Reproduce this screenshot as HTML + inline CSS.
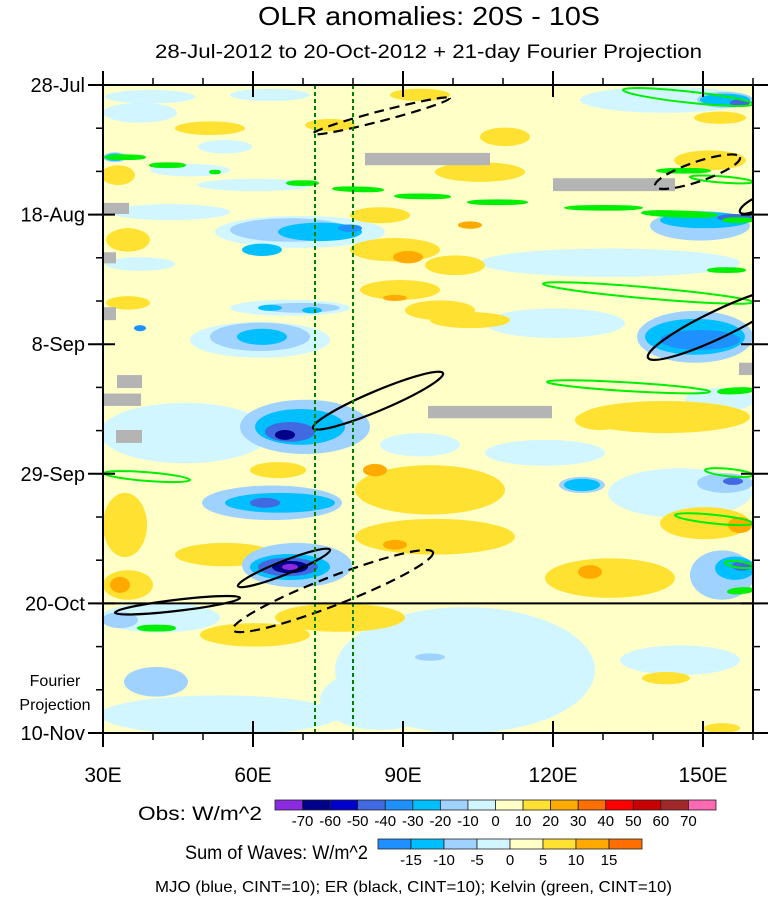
<!DOCTYPE html>
<html><head><meta charset="utf-8"><style>
html,body{margin:0;padding:0;background:#fff;}
body{width:771px;height:899px;overflow:hidden;font-family:"Liberation Sans",sans-serif;}
svg text{font-family:"Liberation Sans",sans-serif;fill:#000;}
</style></head><body>
<svg id="chart" width="771" height="899" viewBox="0 0 771 899" xmlns="http://www.w3.org/2000/svg">
<defs><clipPath id="plotclip"><rect x="103" y="85" width="650" height="648"/></clipPath></defs>
<text x="258" y="25" font-size="26" textLength="342" lengthAdjust="spacingAndGlyphs">OLR anomalies: 20S - 10S</text>
<text x="155" y="58" font-size="19" textLength="547" lengthAdjust="spacingAndGlyphs">28-Jul-2012 to 20-Oct-2012 + 21-day Fourier Projection</text>
<g id="field" clip-path="url(#plotclip)">
<rect x="103" y="85" width="650" height="648" fill="#FFFFC8"/>
</g>
<g id="axes"></g>
<g id="cbars"></g>
<text x="55" y="686" font-size="16" text-anchor="middle">Fourier</text>
<text x="55" y="710" font-size="16" text-anchor="middle">Projection</text>
<text x="138" y="820" font-size="19" textLength="124" lengthAdjust="spacingAndGlyphs">Obs: W/m^2</text>
<text x="185" y="859" font-size="19" textLength="183" lengthAdjust="spacingAndGlyphs">Sum of Waves: W/m^2</text>
<text x="155" y="892" font-size="16" textLength="517" lengthAdjust="spacingAndGlyphs">MJO (blue, CINT=10); ER (black, CINT=10); Kelvin (green, CINT=10)</text>
</svg>
<script>
// ---- data ----
const xTickLons = [30, 60, 90, 120, 150];
const xTickLabels = ["30E", "60E", "90E", "120E", "150E"];
const yTickDays = [0, 21, 42, 63, 84, 105];
const yTickLabels = ["28-Jul", "18-Aug", "8-Sep", "29-Sep", "20-Oct", "10-Nov"];
const obsLevels = [-70, -60, -50, -40, -30, -20, -10, 0, 10, 20, 30, 40, 50, 60, 70];
const obsColors = ["#8A2BE2","#00008B","#0000CD","#4169E1","#1E90FF","#00BFFF","#A0D2FF","#D1F6FF","#FFFFC8","#FFE132","#FFAA00","#FF6E00","#FF0000","#C80000","#A02828","#FF69B4"];
const waveLevels = [-15, -10, -5, 0, 5, 10, 15];
const waveColors = ["#1E90FF","#00BFFF","#A0D2FF","#D1F6FF","#FFFFC8","#FFE132","#FFAA00","#FF6E00"];
const projectionStartDay = 84;
const equatorLons = [72.4, 80];
// anomaly blobs: [lon, day, halfLon, halfDays, value W/m2]
const anomalyBlobs = [
[39.4,1.9,9,1.1,-5],[63.4,1.6,8,1,-5],[37.4,4.5,7.4,1.6,-5],[54.4,10,5.4,1.1,-5],[47.4,13.8,8,1,-5],
[60.4,16.2,11.6,1,-5],[43.4,20.6,12,1.3,-5],[69.4,23.8,17,2.6,-5],[37.4,29,7,1.1,-5],[67.4,36.1,12,1.3,-5],
[61.4,41.3,14,2.9,-5],[142.4,2.4,17,2.1,-5],[131.4,28.8,26,2.3,-5],[120.4,38.6,14,2.4,-5],[118.4,59.6,12,2.1,-5],
[145.4,66.1,14.4,4,-5],[46.4,56.4,17,4.9,-5],[41.4,86.3,12,2.4,-5],[102.4,94.8,26,10.2,-5],[53.4,102.1,24,3.2,-5],
[145.4,93.2,12,2.4,-5],[85.4,99.6,12,4.9,-5],[93.4,58.3,8,1.9,-5],[153.4,51,7,1.9,-5],
[33,14.6,3.4,1.6,15],[35,25.1,4.4,1.9,15],[35,35.3,4.4,1.1,15],[51.4,7,7,1.1,15],
[88.4,26.7,9,1.9,15],[89.4,33.2,8,1.6,15],[97.4,36.5,7,1.6,15],[85.4,21.1,6,1.3,15],[100.4,29.2,6,1.6,15],[103.4,38.1,8,1.3,15],
[110.4,8.4,5,1.5,15],[105.4,14.1,9,1.6,15],[151.4,12.2,7.2,1.6,15],[153.4,5.3,5.2,1,15],
[93.4,1.6,6,1,15],[75.4,6.5,5,1,15],[95.4,65.6,15,4,15],[96.4,73.2,16,2.9,15],[131.4,79.9,13,3.2,15],
[142.4,53.8,17,2.6,15],[150.4,71,9,2.6,15],[34.4,71.3,4.4,5.2,15],[35,81,5,2.4,15],[54.4,76.1,10,1.9,15],
[65,62.4,5.6,1.3,15],[60.4,89.1,11,1.9,15],[77.4,86.3,13,2.3,15],[142.6,96.1,4.8,1,15],[153.8,104.2,3.6,0.8,15],
[129.4,54.3,5,1.6,15],
[91,27.9,3,1,25],[103.4,22.7,2.4,0.6,25],[88.4,34.5,2.4,0.5,25],[84.4,62.4,2.4,1,25],[88.4,74.5,2.4,0.8,25],
[127.4,78.9,2.4,1.1,25],[157.4,71.3,2.4,1.3,25],[33.4,81,2,1.3,25],
[67.4,23.5,12,1.9,-15],[61.4,40.8,10,2.3,-15],[69.4,36.1,8,0.8,-15],[70.4,55.4,13,4.4,-15],[63.8,67.7,14,2.8,-15],
[68.8,77.8,11,3.6,-15],[149.4,22.8,10,2.4,-15],[148.4,40.8,11.6,4.2,-15],[125.8,64.8,4.6,1.3,-15],[154.4,64.5,5.6,1.6,-15],
[153.8,79.4,6.4,4,-15],[40.6,96.7,6.4,2.4,-15],[95.4,92.7,3,0.6,-15],[33.4,86.7,3.6,1.3,-15],[154.4,2.4,5.6,1.3,-15],
[32.4,11.7,2.4,0.8,-15],
[73.4,23.8,8.4,1.5,-25],[61.8,26.7,4,1,-25],[63.4,36.1,2.4,0.5,-25],[71.8,36.5,2,0.5,-25],[61.8,40.8,5,1.3,-25],
[69.4,55.4,9,2.9,-25],[65.4,67.7,11,1.6,-25],[67.4,78.1,8,2.1,-25],[150.4,21.9,9,1.3,-25],[148.4,40.8,10,2.9,-25],
[154.4,2.4,5,1,-25],[125.8,64.8,3.6,1,-25],[156.4,78.3,4,1.9,-25],[32.4,11.7,2,0.6,-25],
[79.4,23.2,2.4,0.6,-35],[149.4,41.3,8,1.6,-35],[37.4,39.4,1.2,0.5,-35],
[67.4,56.2,5,1.6,-45],[62.4,67.7,3,0.8,-45],[67,78.1,6,1.5,-45],[156.4,21.5,3.6,0.6,-45],[157.4,2.9,2,0.6,-45],
[156,64.2,2,0.6,-45],[157.8,77.9,2,0.8,-45],
[66.4,56.7,2,0.8,-65],[67.4,78.1,3.6,1,-65],[67.4,78.1,1.6,0.5,-75]
];
// missing data: [lon1, day1, lon2, day2]
const missingRects = [
[82.4,11.0,107.4,13.0],[120,15.1,144.4,17.2],[30,19.1,35.2,20.9],[30,27.1,32.6,28.9],[30,36,32.6,38.1],
[32.8,47,37.8,49.1],[30,50,37.6,52],[32.6,55.9,37.8,58],[95,52,119.8,54],[157.2,45,160,47]
];
// ER contours: [lon1, day1, lon2, day2, halfWidthDays, dashed]
const erContours = [
[72,7.9,99.4,2.1,0.8,1],[140.4,16.4,157.4,11.7,1.6,1],[139,44.2,167.4,33.2,2.2,0],[72,55.6,98,46.7,1.6,0],
[57,81.2,75.4,75.3,1.1,0],[32.4,85.5,57.4,83.1,0.9,0],[56,88.3,96,75.7,2.3,1],[157.4,20.6,164.4,17.8,1,0]
];
// Kelvin contours: [lon1, day1, lon2, day2, halfWidthDays]
const kelvinContours = [
[134,0.8,160,3.1,0.9],[30.4,11.7,38.4,11.7,0.3],[39.4,13,46.4,13,0.3],[51.4,14.1,53.4,14.1,0.2],[66.8,15.9,73,15.9,0.3],
[76,16.8,86,17,0.3],[88.4,18,99.4,18.1,0.3],[140.8,13.9,151.4,13.9,0.3],[147.4,14.9,160,15.7,0.5],[103,19,114.8,19,0.3],
[122.4,19.9,137.8,19.9,0.3],[137.8,20.7,152.8,21.1,0.4],[154,21.9,160,21.9,0.3],[151,30,158.4,30,0.3],[118,32.2,160,35.2,0.9],
[118.8,48.1,151.4,49.7,0.7],[153,49.7,160,49.4,0.4],[30.2,62.9,47.4,64,0.7],[150.4,62.4,160,63.2,0.6],[144.4,69.7,160,71,0.7],
[154.4,77.4,160,78,0.5],[155,82.1,160,81.8,0.4],[37,88,44.4,88,0.4]
];

// ---- axis functions ----
const X0=103, X1=753, Y0=85, Y1=733;
const lonMin=30, lonMax=160, dayMin=0, dayMax=105;
function xOf(lon){return X0+(lon-lonMin)/(lonMax-lonMin)*(X1-X0);}
function yOf(day){return Y0+(day-dayMin)/(dayMax-dayMin)*(Y1-Y0);}
const pxPerDay=(Y1-Y0)/(dayMax-dayMin), pxPerLon=(X1-X0)/(lonMax-lonMin);
function colorFor(v){let i=0;while(i<obsLevels.length&&v>=obsLevels[i])i++;return obsColors[i];}
const NS="http://www.w3.org/2000/svg";
function mk(tag,attrs,parent){const e=document.createElementNS(NS,tag);for(const k in attrs)e.setAttribute(k,attrs[k]);parent.appendChild(e);return e;}

const field=document.getElementById('field');
anomalyBlobs.forEach(b=>{
  const e=mk('ellipse',{cx:xOf(b[0]),cy:yOf(b[1]),rx:b[2]*pxPerLon,ry:b[3]*pxPerDay,fill:colorFor(b[4])},field);
  
  
});
missingRects.forEach(r=>{
  const e=mk('rect',{x:xOf(r[0]),y:yOf(r[1]),width:xOf(r[2])-xOf(r[0]),height:yOf(r[3])-yOf(r[1]),fill:"#B4B4B4"},field);
  
  
});
function contourEllipse(c,stroke,sw,dash,fill){
  const x1=xOf(c[0]),y1=yOf(c[1]),x2=xOf(c[2]),y2=yOf(c[3]);
  const cx=(x1+x2)/2,cy=(y1+y2)/2,len=Math.hypot(x2-x1,y2-y1);
  const ang=Math.atan2(y2-y1,x2-x1)*180/Math.PI;
  const a={cx:cx,cy:cy,rx:len/2,ry:Math.max(c[4]*pxPerDay,1.2),fill:fill,stroke:stroke,'stroke-width':sw,transform:`rotate(${ang} ${cx} ${cy})`};
  if(dash)a['stroke-dasharray']=dash;
  return mk('ellipse',a,field);
}
kelvinContours.forEach(c=>{
  const e=contourEllipse(c,"#00EE00",2,null,c[4]<=0.4?"#00EE00":"none");
  
  
});
erContours.forEach(c=>{
  const e=contourEllipse(c,"#000",2.2,c[5]?"10,6":null,"none");
  
  
});
equatorLons.forEach(l=>{
  const e=mk('line',{x1:xOf(l),x2:xOf(l),y1:Y0,y2:Y1,stroke:"#008000","stroke-width":2,"stroke-dasharray":"4,3"},field);
  
  
});
const pl=mk('line',{x1:X0,x2:X1,y1:yOf(projectionStartDay),y2:yOf(projectionStartDay),stroke:"#000","stroke-width":2},field);



const axes=document.getElementById('axes');
const frame=mk('rect',{x:X0,y:Y0,width:X1-X0,height:Y1-Y0,fill:"none",stroke:"#000","stroke-width":2},axes);


for(let lon=lonMin;lon<=lonMax;lon+=10){
  const x=xOf(lon);
  mk('line',{x1:x,x2:x,y1:Y1,y2:Y1+7,stroke:"#000","stroke-width":1.5},axes);
  mk('line',{x1:x,x2:x,y1:Y0,y2:Y0-7,stroke:"#000","stroke-width":1.5},axes);
}
xTickLons.forEach((lon,i)=>{
  const x=xOf(lon);
  mk('line',{x1:x,x2:x,y1:Y1-12,y2:Y1+14,stroke:"#000","stroke-width":2},axes);
  mk('line',{x1:x,x2:x,y1:Y0-14,y2:Y0+12,stroke:"#000","stroke-width":2},axes);
  const t=mk('text',{x:x,y:782,"font-size":21,"text-anchor":"middle"},axes);
  t.textContent=xTickLabels[i];
  
  
});
for(let d=dayMin;d<=dayMax;d+=7){
  const y=yOf(d);
  mk('line',{x1:X0,x2:X0-7,y1:y,y2:y,stroke:"#000","stroke-width":1.5},axes);
  mk('line',{x1:X1,x2:X1+7,y1:y,y2:y,stroke:"#000","stroke-width":1.5},axes);
}
yTickDays.forEach((d,i)=>{
  const y=yOf(d);
  mk('line',{x1:X0-15,x2:X0+12,y1:y,y2:y,stroke:"#000","stroke-width":2},axes);
  mk('line',{x1:X1-12,x2:X1+15,y1:y,y2:y,stroke:"#000","stroke-width":2},axes);
  const t=mk('text',{x:85,y:y+7,"font-size":20,"text-anchor":"end"},axes);
  t.textContent=yTickLabels[i];
  
  
});

const cb=document.getElementById('cbars');
function colorbar(colors,labels,x0,x1,y,h,name){
  const w=(x1-x0)/colors.length;
  colors.forEach((c,i)=>{
    const r=mk('rect',{x:x0+i*w,y:y,width:w,height:h,fill:c,stroke:"#222","stroke-width":0.8},cb);
    
    
  });
  labels.forEach((l,i)=>{
    const t=mk('text',{x:x0+(i+1)*w,y:y+h+16,"font-size":15,"text-anchor":"middle"},cb);
    t.textContent=l;
    
    
  });
}
colorbar(obsColors,obsLevels,275,716,800,10,'obs-colorbar');
colorbar(waveColors,waveLevels,378,642,839,10,'waves-colorbar');
</script>
</body></html>
